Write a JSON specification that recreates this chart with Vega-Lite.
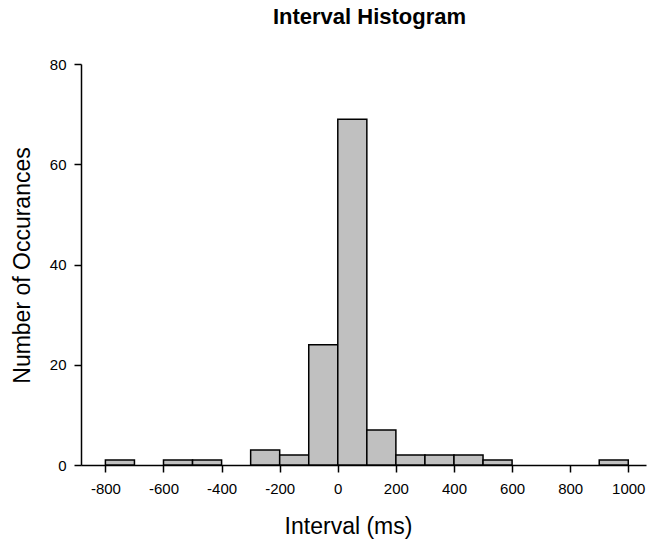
{
  "$schema": "https://vega.github.io/schema/vega-lite/v6.json",
  "width": 565,
  "height": 401,
  "autosize": "none",
  "padding": {"left": 81, "top": 64, "right": 4, "bottom": 77},
  "background": "white",
  "title": {
    "text": "Interval Histogram",
    "font": "Liberation Sans",
    "fontSize": 22,
    "fontWeight": "bold",
    "color": "black",
    "anchor": "middle",
    "baseline": "alphabetic",
    "offset": 11,
    "dx": 6
  },
  "config": {
    "view": {"stroke": null},
    "axis": {
      "labelFont": "Liberation Sans",
      "labelFontSize": 15,
      "labelColor": "black",
      "titleFont": "Liberation Sans",
      "titleFontWeight": "normal",
      "titleColor": "black",
      "titleFontSize": 23,
      "domainColor": "black",
      "domainWidth": 1.5,
      "tickColor": "black",
      "tickWidth": 1.5,
      "tickSize": 7,
      "grid": false,
      "labelExpr": "'' + datum.value"
    }
  },
  "data": {
    "values": [
      {"bin_start": -800, "bin_end": -700, "count": 1},
      {"bin_start": -600, "bin_end": -500, "count": 1},
      {"bin_start": -500, "bin_end": -400, "count": 1},
      {"bin_start": -300, "bin_end": -200, "count": 3},
      {"bin_start": -200, "bin_end": -100, "count": 2},
      {"bin_start": -100, "bin_end": 0, "count": 24},
      {"bin_start": 0, "bin_end": 100, "count": 69},
      {"bin_start": 100, "bin_end": 200, "count": 7},
      {"bin_start": 200, "bin_end": 300, "count": 2},
      {"bin_start": 300, "bin_end": 400, "count": 2},
      {"bin_start": 400, "bin_end": 500, "count": 2},
      {"bin_start": 500, "bin_end": 600, "count": 1},
      {"bin_start": 900, "bin_end": 1000, "count": 1}
    ]
  },
  "mark": {
    "type": "bar",
    "fill": "#c0c0c0",
    "stroke": "black",
    "strokeWidth": 1.5
  },
  "encoding": {
    "x": {
      "field": "bin_start",
      "type": "quantitative",
      "scale": {"domain": [-884, 1061], "nice": false, "zero": false},
      "axis": {
        "title": "Interval (ms)",
        "values": [-800, -600, -400, -200, 0, 200, 400, 600, 800, 1000],
        "labelPadding": 9,
        "titleX": 267,
        "titleY": 68,
        "titleAnchor": null,
        "titleAlign": "center",
        "titleBaseline": "alphabetic"
      }
    },
    "x2": {"field": "bin_end"},
    "y": {
      "field": "count",
      "type": "quantitative",
      "scale": {"domain": [0, 80], "nice": false},
      "axis": {
        "title": "Number of Occurances",
        "values": [0, 20, 40, 60, 80],
        "labelPadding": 8,
        "titleX": -59,
        "titleY": 201,
        "titleAngle": -90,
        "titleAlign": "center",
        "titleBaseline": "middle"
      }
    },
    "y2": {"datum": 0}
  }
}
